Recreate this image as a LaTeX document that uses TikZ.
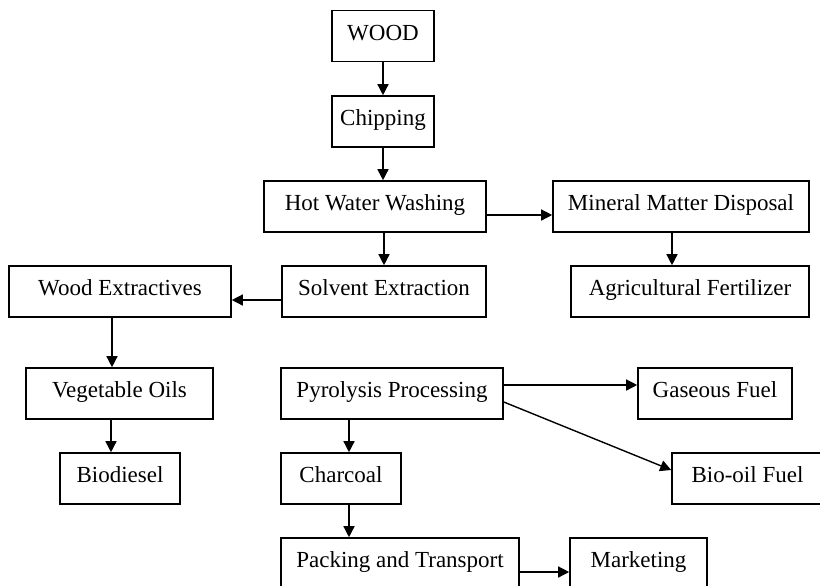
\documentclass[tikz,border=0pt]{standalone}
\usepackage{fontspec}
\setmainfont{Liberation Serif}
\usetikzlibrary{arrows.meta,calc,positioning}
\tikzset{%
	process/.style = {draw, rectangle, line width=0.8pt, minimum height=25.5pt, inner sep=0pt, text height=7.2pt, text depth=3.2pt, text centered, font=\fontsize{11.5}{13}\selectfont},
	arrow/.style   = {line width=0.7pt, -{Triangle[length=5.5pt,width=5.5pt]}},
}

\begin{document}
\begin{tikzpicture}[x=0.5pt,y=-0.5pt]
	\clip (0,0) rectangle (820,585);
	
	% main line
	\node[process, minimum width=51pt]  (wood)  at (383,36)    {WOOD};
	\node[process, minimum width=51pt]  (chip)  at (383,121.5) {Chipping};
	\node[process, minimum width=111pt] (wash)  at (375,206.5) {Hot Water Washing};
	\node[process, minimum width=128pt] (mineral) at (681,206.5) {Mineral Matter Disposal};
	\node[process, minimum width=102pt] (solv)  at (384,291.5) {Solvent Extraction};
	\node[process, minimum width=111pt] (extr)  at (120,291.5) {Wood Extractives};
	\node[process, minimum width=119pt] (fert)  at (690,291.5) {Agricultural Fertilizer};
	
	% products
	\node[process, minimum width=93.5pt] (oils) at (119.5,393.5) {Vegetable Oils};
	\node[process, minimum width=111pt] (pyro)  at (392,393.5) {Pyrolysis Processing};
	\node[process, minimum width=77pt]  (gas)   at (715,393.5) {Gaseous Fuel};
	\node[process, minimum width=60pt]  (diesel) at (120,478.5) {Biodiesel};
	\node[process, minimum width=60pt]  (char)  at (341,478.5) {Charcoal};
	\node[process, minimum width=75.5pt] (biooil) at (747.5,478.5) {Bio-oil Fuel};
	\node[process, minimum width=119pt] (pack)  at (400,563.5) {Packing and Transport};
	\node[process, minimum width=68.5pt] (market) at (638.5,563.5) {Marketing};
	
	% arrows
	\draw[arrow] (wood) -- (chip);
	\draw[arrow] (chip.south) -- (chip.south |- wash.north);
	\draw[arrow] (wash.south -| solv.north) -- (solv.north);
	\draw[arrow] ([yshift=-4.25pt]wash.east) -- ([yshift=-4.25pt]mineral.west);
	\draw[arrow] ([xshift=-4.5pt]mineral.south) -- ([xshift=-4.5pt]mineral.south |- fert.north);
	\draw[arrow] ([yshift=-4.25pt]solv.west) -- ([yshift=-4.25pt]extr.east);
	\draw[arrow] ([xshift=-4pt]extr.south) -- ([xshift=-4pt]extr.south |- oils.north);
	\draw[arrow] ([xshift=-4.25pt]oils.south) -- ([xshift=-4.25pt]oils.south |- diesel.north);
	\draw[arrow] ([xshift=4pt]char.north |- pyro.south) -- ([xshift=4pt]char.north);
	\draw[arrow] ([yshift=4.25pt]pyro.east) -- ([yshift=4.25pt]gas.west);
	\draw[arrow] ([yshift=-4.25pt]pyro.east) -- ([yshift=4.25pt]biooil.west);
	\draw[arrow] ([xshift=4pt]char.south) -- ([xshift=4pt]char.south |- pack.north);
	\draw[arrow] ([yshift=-4.25pt]pack.east) -- ([yshift=-4.25pt]market.west);
\end{tikzpicture}
\end{document}
